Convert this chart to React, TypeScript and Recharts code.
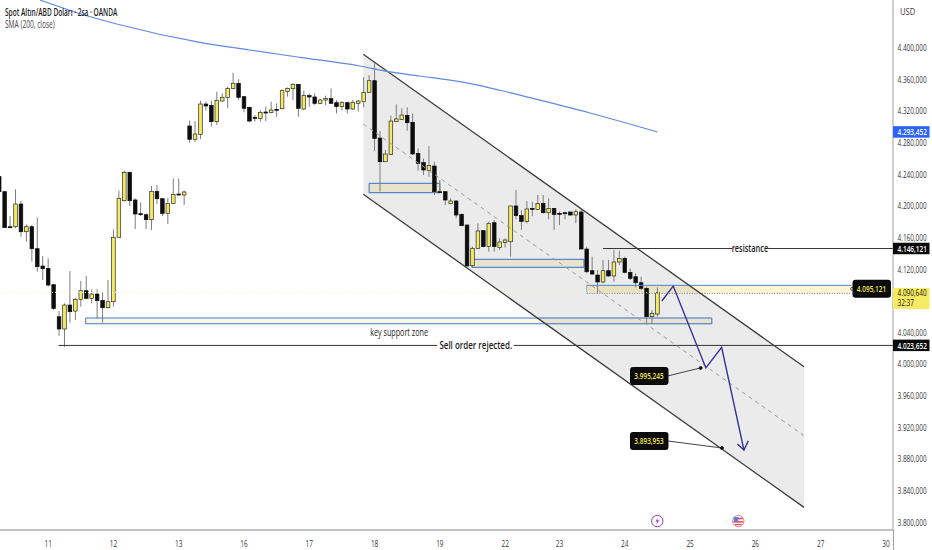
import React from "react"
import {
  Area,
  Bar,
  ComposedChart,
  Line,
  ReferenceArea,
  ReferenceDot,
  ReferenceLine,
  XAxis,
  YAxis,
} from "recharts"

// candles, one per 2 hours, left to right
const opens = [
  4237, 4218, 4173.7, 4173.7, 4202.4, 4167.4, 4173.7, 4145.9, 4124, 4121,
  4100.4, 4059.9, 4044.4, 4074.7, 4067.1, 4081.9, 4092.8, 4083.1, 4088.6, 4080.6,
  4071.3, 4078.9, 4160.3, 4206.6, 4242.4, 4207.5, 4190.2, 4188.9, 4182.6, 4218.4,
  4209.1, 4190.6, 4203.2, 4215, 4213.8, 4301, 4284.2, 4290.5, 4328.8, 4327.1,
  4306.5, 4332.6, 4336.9, 4348.6, 4355, 4338.1, 4324.6, 4312, 4310.7, 4318.7,
  4317.9, 4322.1, 4322.9, 4344.8, 4348.2, 4353.7, 4322.5, 4339.4, 4337.7, 4329.7,
  4333.9, 4335.6, 4330.5, 4325.5, 4330.5, 4322.5, 4329.7, 4331.8, 4343.6, 4358.3,
  4285.8, 4255.9, 4265.2, 4306.5, 4309.4, 4314.5, 4305.7, 4266.4, 4254.7, 4245,
  4250.4, 4218, 4218, 4202.8, 4206.2, 4189.3, 4175.9, 4124.4, 4146.4, 4168.7,
  4148.5, 4178.8, 4147.6, 4153.9, 4154.8, 4199.9, 4187.7, 4180.5, 4196.9, 4195.6,
  4203.2, 4191.4, 4196.9, 4190.6, 4191.4, 4192.3, 4188.5, 4192.3, 4145.5, 4118.1,
  4112.6, 4103.8, 4118.1, 4111.4, 4129.1, 4133.7, 4116, 4110.5, 4102.9, 4095.8,
  4060, 4063.3,
]
const highs = [
  4238, 4218.5, 4187.2, 4221, 4206.6, 4176.7, 4175.9, 4185.5, 4136.6, 4133.7,
  4101.3, 4067.1, 4076.8, 4117.7, 4084, 4105, 4111.4, 4094.5, 4094.5, 4090.7,
  4106.3, 4170.4, 4219.3, 4244.5, 4243.3, 4209.6, 4204.5, 4190.6, 4225.2, 4226.4,
  4209.6, 4209.6, 4234.8, 4234.8, 4219.3, 4307.8, 4307.3, 4333, 4331.8, 4333,
  4344.4, 4342.3, 4350.8, 4368.4, 4360, 4338.9, 4325.5, 4314.9, 4321.2, 4325.5,
  4331.8, 4329.7, 4347.4, 4349.9, 4355, 4354.1, 4345.7, 4342.3, 4342.3, 4335.2,
  4339.4, 4348.6, 4333.9, 4332.6, 4331.8, 4333.9, 4333.9, 4362.5, 4365.5, 4380.2,
  4294.7, 4270.7, 4314.1, 4328.4, 4323.4, 4324.6, 4317, 4272.8, 4260.1, 4275.7,
  4255.9, 4232.7, 4218.8, 4209.6, 4207.5, 4190.6, 4175.9, 4148.5, 4178, 4169.5,
  4180.1, 4182.2, 4159, 4159, 4200.3, 4220.1, 4194.8, 4206.2, 4205.3, 4213.8,
  4213.8, 4209.6, 4196.9, 4192.7, 4192.7, 4192.7, 4195.7, 4195.7, 4148.5, 4135.8,
  4119, 4131.6, 4131.6, 4144.2, 4143.4, 4135.8, 4121, 4114.7, 4110.5, 4097.9,
  4068.4, 4097,
]
const lows = [
  4217, 4172, 4172, 4171.6, 4161.1, 4154.8, 4129.5, 4116.9, 4106.3, 4097.9,
  4068.4, 4035.9, 4022, 4052.4, 4055.7, 4072.6, 4083.1, 4076.8, 4057.8, 4052.4,
  4070.5, 4072.6, 4160.3, 4205.4, 4199.9, 4170.8, 4187.2, 4170.8, 4169.5, 4202.4,
  4187.2, 4177.1, 4202.4, 4213.8, 4201.1, 4280, 4281.2, 4284.6, 4320.4, 4300.2,
  4302.3, 4331.8, 4323.4, 4347.4, 4333.9, 4318.3, 4305.6, 4306.5, 4306.5, 4307.3,
  4317, 4312.8, 4322.1, 4338.1, 4333.9, 4312.8, 4321.2, 4325.5, 4327.6, 4328.8,
  4327.6, 4329.7, 4317, 4320.4, 4317, 4321.2, 4319.1, 4324.6, 4343.2, 4269.4,
  4218, 4255.9, 4264.4, 4306.5, 4308.6, 4295.1, 4264.4, 4244.6, 4239.1, 4236.9,
  4213.8, 4216.7, 4201.1, 4202, 4184.3, 4174.6, 4124, 4122.3, 4145.1, 4147.6,
  4142.1, 4142.1, 4144.3, 4147.6, 4135.8, 4183, 4169.5, 4178, 4187.2, 4194.8,
  4190.6, 4183, 4169.5, 4175.8, 4183, 4187.6, 4178, 4145.5, 4114.7, 4112.6,
  4089.5, 4102.1, 4110.5, 4104.2, 4125.3, 4114.7, 4106.3, 4097, 4093.7, 4051.5,
  4050.7, 4060,
]
const closes = [
  4218, 4172.5, 4172.5, 4202.4, 4167.4, 4173.7, 4145.9, 4123.2, 4120.6, 4100,
  4070.5, 4044.4, 4074.7, 4066.3, 4081.9, 4092.8, 4083.1, 4088.6, 4080.2, 4071.3,
  4078.9, 4160.3, 4209.6, 4242.4, 4206.6, 4189.8, 4188.9, 4182.6, 4218.4, 4209.1,
  4190.6, 4203.2, 4214.6, 4214.2, 4217.6, 4284.2, 4290.9, 4328.8, 4326.3, 4306.5,
  4333.5, 4337.3, 4348.6, 4355, 4337.3, 4323.4, 4307.3, 4311.1, 4318.3, 4317.9,
  4321.2, 4321.2, 4345.7, 4348.6, 4353.7, 4323.4, 4339.4, 4337.7, 4329.7, 4333.9,
  4335.6, 4329.7, 4325.5, 4330.5, 4322.5, 4330.9, 4332.6, 4343.6, 4358.3, 4285.4,
  4255.9, 4265.6, 4307.3, 4309.9, 4314.9, 4305.2, 4265.6, 4253.8, 4245.4, 4250.9,
  4218, 4216.7, 4207.5, 4206.2, 4188.5, 4175, 4124, 4146.4, 4168.3, 4148.5,
  4178, 4148.5, 4154.4, 4156.9, 4199.9, 4187.7, 4180.5, 4196.1, 4196.1, 4203.2,
  4191.4, 4196.9, 4189.3, 4189.3, 4190.6, 4188.5, 4192.7, 4145.5, 4116.8, 4113.9,
  4103.8, 4118.1, 4111.4, 4129.1, 4133.7, 4116, 4108.4, 4102.9, 4095.8, 4060,
  4064.2, 4090.6,
]

// SMA 200, [bar index, price]
const smaBars = [7.5, 14.3, 21.6, 36.9, 46.1, 55.3, 66.3, 71.5, 77.3, 84.7, 92.6, 97.6, 108.6, 121]
const smaPrices = [4460.3, 4444.2, 4430, 4406.8, 4397.1, 4387.8, 4376.9, 4369.7, 4364.2, 4357, 4345.3, 4336.8, 4317.4, 4293.45]

// descending channel
const channelBars = [66.92, 147.94]
const channelTop = [4391.7, 3996.7]
const channelMid = [4303.5, 3909.5]
const channelBottom = [4214.7, 3818.9]

// projected path + arrow head
const pathBars = [121.8, 123.9, 129.9, 132.8, 136.9]
const pathPrices = [4079.8, 4098.7, 3995.2, 4021.2, 3891.4]
const headBars = [135.7, 136.9, 137.7]
const headPrices = [3899, 3891.4, 3903.2]

// zones: from bar, to bar, upper, lower
const zoneFrom = [68, 86.9, 15.9]
const zoneTo = [81, 107.5, 131]
const zoneUpper = [4228.6, 4132.5, 4058.3]
const zoneLower = [4216.7, 4122.4, 4051]

const priceTicks = [
  3800, 3840, 3880, 3920, 3960, 4000, 4040, 4120, 4160, 4200, 4240, 4280, 4320, 4360, 4400,
]
const dayTicks = [9, 21, 33, 45, 57, 69, 81, 93, 103, 115, 127, 139, 151, 163]
const dayLabels = ["11", "12", "13", "16", "17", "18", "19", "22", "23", "24", "25", "26", "27", "30"]

const FONT = "'Open Sans', sans-serif"
const X_MIN = 0.142
const X_MAX = 164.3
const BODY_WIDTH = 3.6

const candleRows = opens.map((open, i) => ({
  i,
  open,
  close: closes[i],
  high: highs[i],
  low: lows[i],
  range: [lows[i], highs[i]],
}))
const smaRows = smaBars.map((i, k) => ({ i, sma: smaPrices[k] }))
const channelRows = channelBars.map((i, k) => ({
  i,
  band: [channelBottom[k], channelTop[k]],
  top: channelTop[k],
  mid: channelMid[k],
  bottom: channelBottom[k],
}))
const pathRows = pathBars.map((i, k) => ({ i, p: pathPrices[k] }))
const headRows = headBars.map((i, k) => ({ i, p: headPrices[k] }))

const fmtPrice = (v: number) => {
  const whole = Math.floor(v)
  const frac = Math.round((v - whole) * 1000)
  return `${String(whole)[0]}.${String(whole).slice(1)},${String(frac).padStart(3, "0")}`
}

// the source image is squeezed horizontally, so all labels are narrowed
function Narrow({ x, y, children, size = 9.5, fill = "#333", weight = 400, anchor = "start", sx = 0.68 }: any) {
  return (
    <g transform={`translate(${x},${y}) scale(${sx},1)`}>
      <text
        x={0}
        y={0}
        dy="0.35em"
        fontFamily={FONT}
        fontSize={size}
        fontWeight={weight}
        fill={fill}
        textAnchor={anchor}
      >
        {children}
      </text>
    </g>
  )
}

function Candle({ x, y, width, height, payload }: any) {
  const { open, close, high, low } = payload
  const up = close >= open
  const perUnit = height / (high - low || 1)
  const top = y + (high - Math.max(open, close)) * perUnit
  const bottom = y + (high - Math.min(open, close)) * perUnit
  const mid = x + width / 2
  return (
    <g>
      <line x1={mid} x2={mid} y1={y} y2={y + height} stroke="#7d7d7d" strokeWidth={1} />
      <rect
        x={mid - BODY_WIDTH / 2}
        y={top}
        width={BODY_WIDTH}
        height={Math.max(bottom - top, 1)}
        fill={up ? "#f6ea62" : "#0d0d0d"}
        stroke={up ? "#2a2a2a" : "#0d0d0d"}
        strokeWidth={0.7}
      />
    </g>
  )
}

function PriceTick({ y, payload }: any) {
  return (
    <Narrow x={897.5} y={y}>
      {fmtPrice(payload.value)}
    </Narrow>
  )
}

function DayTick({ x, y, payload }: any) {
  const label = dayLabels[dayTicks.indexOf(payload.value)]
  return (
    <Narrow x={x} y={y + 6} anchor="middle" fill="#333">
      {label}
    </Narrow>
  )
}

// tag on the price scale
const axisTag = (value: string, fill: string, color: string, sub?: string) =>
  function Tag({ cx, cy }: any) {
    const h = sub ? 21 : 11.5
    const top = sub ? cy - 4.5 : cy - 5.8
    return (
      <g>
        <rect x={cx} y={top} width={36.5} height={h} fill={fill} />
        <Narrow x={cx + 4.5} y={sub ? cy + 0.3 : cy} fill={color} weight={sub ? 400 : 600}>
          {value}
        </Narrow>
        {sub && (
          <Narrow x={cx + 4.5} y={cy + 10} fill={color}>
            {sub}
          </Narrow>
        )}
      </g>
    )
  }

// black price bubble with a leader to the marked point
const callout = (value: string, dx: number, dy: number, leader: boolean) =>
  function Callout({ cx, cy }: any) {
    return (
      <g>
        {leader && (
          <line x1={cx} y1={cy} x2={cx + dx + 38} y2={cy + dy} stroke="#444" strokeWidth={1} />
        )}
        <circle
          cx={cx}
          cy={cy}
          r={1.5}
          fill={leader ? "#111" : "none"}
          stroke={leader ? "#111" : "#222"}
          strokeWidth={0.8}
        />
        <rect x={cx + dx} y={cy + dy - 9} width={38.5} height={18} rx={3} fill="#0b0b0b" />
        <Narrow x={cx + dx + 19} y={cy + dy} anchor="middle" fill="#f5e84e" weight={600}>
          {value}
        </Narrow>
      </g>
    )
  }

const caption = (value: string, weight: number, sx: number) =>
  function Caption({ cx, cy }: any) {
    return (
      <Narrow x={cx} y={cy} anchor="middle" fill="#1a1a1a" weight={weight} size={10} sx={sx}>
        {value}
      </Narrow>
    )
  }

function BoltIcon({ cx, cy }: any) {
  return (
    <g>
      <circle cx={cx} cy={cy} r={5.7} fill="#fff" stroke="#9c3fb5" strokeWidth={1} />
      <path
        d={`M${cx + 0.8} ${cy - 3.4} L${cx - 1.8} ${cy + 0.5} L${cx - 0.1} ${cy + 0.5} L${cx - 0.8} ${cy + 3.4} L${cx + 1.8} ${cy - 0.7} L${cx + 0.1} ${cy - 0.7} Z`}
        fill="#9c3fb5"
      />
    </g>
  )
}

function FlagIcon({ cx, cy }: any) {
  return (
    <g>
      <circle cx={cx} cy={cy} r={5.7} fill="#fff" stroke="#e8808a" strokeWidth={1} />
      <rect x={cx - 4.4} y={cy - 3.4} width={8.8} height={1.7} fill="#e0505c" />
      <rect x={cx - 4.8} y={cy} width={9.6} height={1.6} fill="#e0505c" />
      <rect x={cx - 3.4} y={cy + 2.8} width={6.8} height={1.4} fill="#e0505c" />
      <rect x={cx - 4.5} y={cy - 4} width={4.6} height={4} fill="#4d8be0" />
    </g>
  )
}

export default function App() {
  return (
    <div style={{ position: "absolute", left: 0, top: 0, width: 932, height: 550, background: "#fff", overflow: "hidden" }}>
      <ComposedChart
        width={932}
        height={550}
        data={candleRows}
        margin={{ top: 0, right: 0, bottom: 0, left: 0 }}
      >
        <XAxis
          dataKey="i"
          type="number"
          domain={[X_MIN, X_MAX]}
          allowDataOverflow
          ticks={dayTicks}
          height={20}
          interval={0}
          tick={<DayTick />}
          tickLine={false}
          axisLine={{ stroke: "#858585", strokeWidth: 1 }}
        />
        <YAxis
          orientation="right"
          type="number"
          domain={[3790.3, 4460.3]}
          allowDataOverflow
          ticks={priceTicks}
          width={39}
          interval={0}
          tick={<PriceTick />}
          tickLine={false}
          axisLine={{ stroke: "#a0a0a0", strokeWidth: 1 }}
        />

        {zoneFrom.map((from, k) => (
          <ReferenceArea
            key={k}
            x1={from}
            x2={zoneTo[k]}
            y1={zoneLower[k]}
            y2={zoneUpper[k]}
            fill="#f8ecae"
            fillOpacity={0.4}
            stroke="#3f78d8"
            strokeWidth={1}
            ifOverflow="visible"
          />
        ))}
        <ReferenceArea x1={108} x2={156.7} y1={4089.5} y2={4099.6} fill="#f9e88f" fillOpacity={0.4} stroke="none" />
        <ReferenceLine segment={[{ x: 108, y: 4099.6 }, { x: 156.7, y: 4099.6 }]} stroke="#4f82d8" />
        <ReferenceLine segment={[{ x: 108, y: 4099.6 }, { x: 108, y: 4089.5 }]} stroke="#8aaae0" />
        <ReferenceLine segment={[{ x: 108, y: 4089.5 }, { x: 156.7, y: 4089.5 }]} stroke="#4f6fa8" strokeDasharray="1 1.5" />

        <ReferenceLine y={4090.64} stroke="#f8f5c0" strokeDasharray="1 2" />

        <ReferenceLine segment={[{ x: 111, y: 4146.12 }, { x: 134.8, y: 4146.12 }]} stroke="#333" />
        <ReferenceLine segment={[{ x: 141.3, y: 4146.12 }, { x: X_MAX, y: 4146.12 }]} stroke="#333" />
        <ReferenceLine segment={[{ x: 10.9, y: 4023.65 }, { x: 80.5, y: 4023.65 }]} stroke="#333" />
        <ReferenceLine segment={[{ x: 94.6, y: 4023.65 }, { x: X_MAX, y: 4023.65 }]} stroke="#333" />

        <Area
          data={channelRows}
          dataKey="band"
          type="linear"
          fill="#000"
          fillOpacity={0.08}
          stroke="none"
          dot={false}
          activeDot={false}
          isAnimationActive={false}
        />
        <Line data={channelRows} dataKey="top" type="linear" stroke="#3c3c3c" strokeWidth={1.3} dot={false} activeDot={false} isAnimationActive={false} />
        <Line data={channelRows} dataKey="bottom" type="linear" stroke="#3c3c3c" strokeWidth={1.3} dot={false} activeDot={false} isAnimationActive={false} />
        <Line data={channelRows} dataKey="mid" type="linear" stroke="#9a9a9a" strokeWidth={1} strokeDasharray="4 4" dot={false} activeDot={false} isAnimationActive={false} />

        <Bar dataKey="range" barSize={4} shape={<Candle />} isAnimationActive={false} />

        <Line data={smaRows} dataKey="sma" type="monotone" stroke="#5f8ae0" strokeWidth={1.2} dot={false} activeDot={false} isAnimationActive={false} />
        <Line data={pathRows} dataKey="p" type="linear" stroke="#35309a" strokeWidth={1.4} dot={false} activeDot={false} isAnimationActive={false} />
        <Line data={headRows} dataKey="p" type="linear" stroke="#35309a" strokeWidth={1.4} dot={false} activeDot={false} isAnimationActive={false} />

        <ReferenceDot x={138} y={4146.12} r={0} ifOverflow="visible" isFront shape={caption("resistance", 600, 0.74)} />
        <ReferenceDot x={87.6} y={4023.65} r={0} ifOverflow="visible" isFront shape={caption("Sell order rejected.", 600, 0.8)} />
        <ReferenceDot x={73.5} y={4040.6} r={0} ifOverflow="visible" isFront shape={caption("key support zone", 400, 0.72)} />

        <ReferenceDot x={128.95} y={3995.245} ifOverflow="visible" isFront shape={callout(fmtPrice(3995.245), -70.7, 8, true)} />
        <ReferenceDot x={132.86} y={3893.953} ifOverflow="visible" isFront shape={callout(fmtPrice(3893.953), -92, -7, true)} />
        <ReferenceDot x={156.8} y={4095.121} ifOverflow="visible" isFront shape={callout(fmtPrice(4095.121), 0.3, 0, false)} />

        <ReferenceDot x={X_MAX} y={4293.452} ifOverflow="visible" isFront shape={axisTag(fmtPrice(4293.452), "#2962ff", "#fff")} />
        <ReferenceDot x={X_MAX} y={4146.121} ifOverflow="visible" isFront shape={axisTag(fmtPrice(4146.121), "#0b0b0b", "#fff")} />
        <ReferenceDot x={X_MAX} y={4023.652} ifOverflow="visible" isFront shape={axisTag(fmtPrice(4023.652), "#0b0b0b", "#fff")} />
        <ReferenceDot x={X_MAX} y={4090.64} ifOverflow="visible" isFront shape={axisTag(fmtPrice(4090.64), "#f6ea62", "#111", "32:37")} />

        <ReferenceDot x={120.97} y={3801.6} ifOverflow="visible" isFront shape={<BoltIcon />} />
        <ReferenceDot x={135.86} y={3801.6} ifOverflow="visible" isFront shape={<FlagIcon />} />
      </ComposedChart>

      <div style={{ position: "absolute", left: 893, top: 530, width: 1, height: 20, background: "#a0a0a0" }} />
      <div style={{ position: "absolute", left: 900, top: 6, fontFamily: FONT, fontSize: 9.5, color: "#333", lineHeight: "12px", transform: "scaleX(0.8)", transformOrigin: "left" }}>
        USD
      </div>
      <div style={{ position: "absolute", left: 4.5, top: 6, fontFamily: FONT, fontSize: 10, fontWeight: 600, color: "#1c1c1c", lineHeight: "12px", whiteSpace: "nowrap", transform: "scaleX(0.655)", transformOrigin: "left" }}>
        Spot Altın/ABD Doları · 2sa · OANDA
      </div>
      <div style={{ position: "absolute", left: 4.5, top: 18, fontFamily: FONT, fontSize: 10, color: "#444", lineHeight: "12px", whiteSpace: "nowrap", transform: "scaleX(0.66)", transformOrigin: "left" }}>
        SMA (200, close)
      </div>
    </div>
  )
}
